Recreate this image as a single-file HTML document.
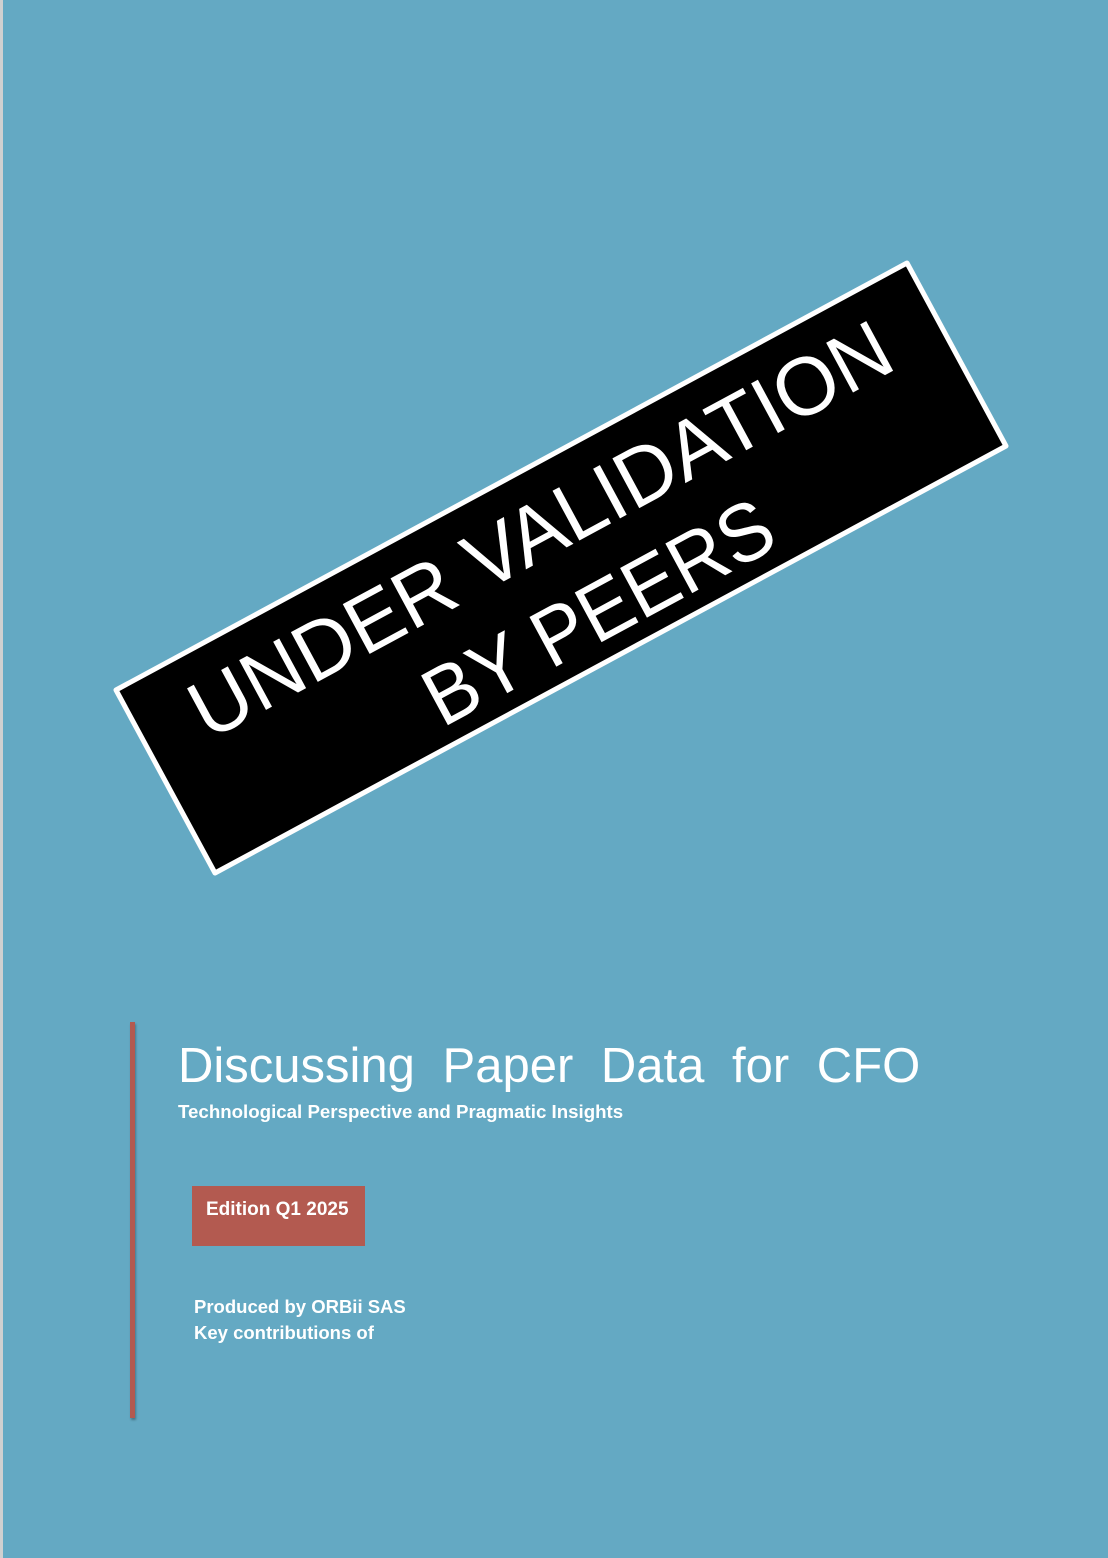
<!DOCTYPE html>
<html><head><meta charset="utf-8"><style>
html,body{margin:0;padding:0}
body{width:1108px;height:1558px;position:relative;overflow:hidden;background:#64a9c3;font-family:"Liberation Sans","DejaVu Sans",sans-serif;color:#fff}
.edge{position:absolute;left:0;top:0;width:3px;height:1558px;background:#d0d0d0}
.bar{position:absolute;left:130px;top:1022px;width:5px;height:396px;background:#b35a50;box-shadow:1px 2px 2px rgba(0,0,0,.3)}
.t{position:absolute;white-space:nowrap}
</style></head><body>
<div class="edge"></div>
<svg width="1108" height="1558" style="position:absolute;left:0;top:0">
<polygon points="116,690 907,263 1006,446 215,873" fill="#000" stroke="#fff" stroke-width="5" stroke-linejoin="round"/>
<g transform="translate(561,568) rotate(-28.4)">
<text x="0" y="-43" fill="#fff" font-family="Liberation Sans, sans-serif" font-size="82" text-anchor="middle" dominant-baseline="central" textLength="785" lengthAdjust="spacingAndGlyphs">UNDER VALIDATION</text>
<text x="12" y="57" fill="#fff" font-family="Liberation Sans, sans-serif" font-size="82" text-anchor="middle" dominant-baseline="central" textLength="385" lengthAdjust="spacingAndGlyphs">BY PEERS</text>
</g>
</svg>
<div class="bar"></div>
<div class="t" style="left:178px;top:1038px;font-size:49px;word-spacing:14px">Discussing Paper Data for CFO</div>
<div class="t" style="left:178px;top:1101px;font-size:18.7px;font-weight:bold">Technological Perspective and Pragmatic Insights</div>
<div style="position:absolute;left:192px;top:1186px;width:173px;height:60px;background:#b35a50">
<div class="t" style="left:14px;top:13px;font-size:19px;font-weight:bold">Edition Q1 2025</div></div>
<div class="t" style="left:194px;top:1294px;font-size:18.5px;font-weight:bold;line-height:26px">Produced by ORBii SAS<br>Key contributions of</div>
</body></html>
